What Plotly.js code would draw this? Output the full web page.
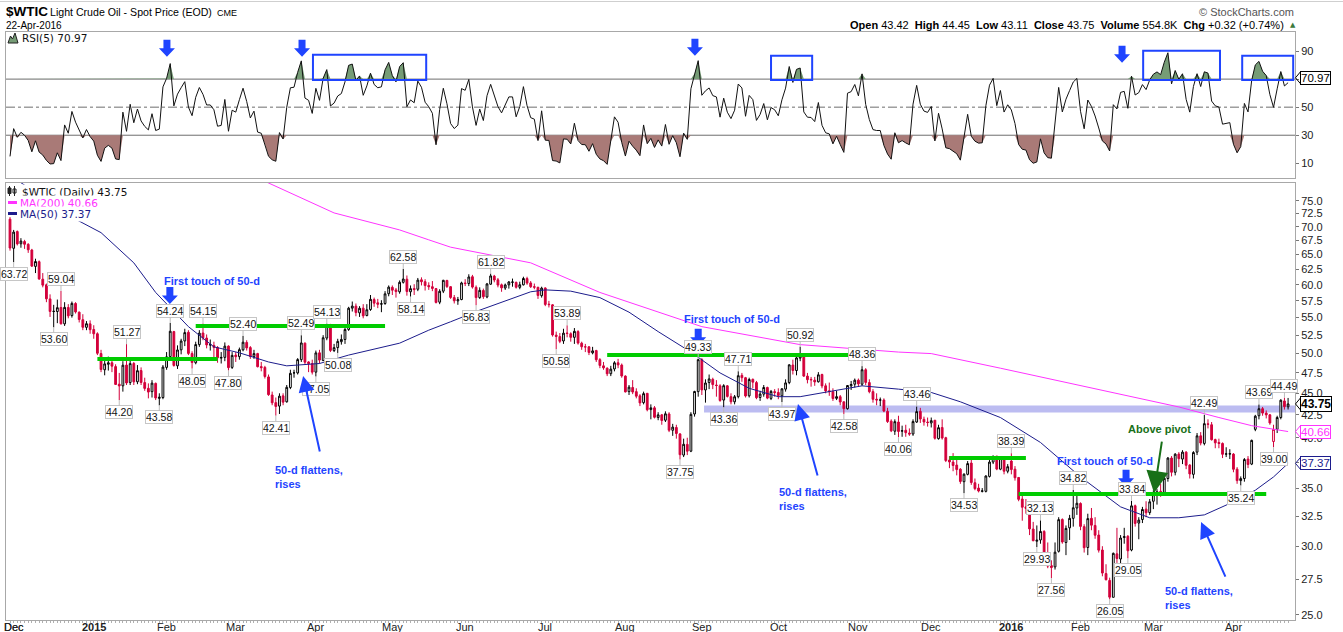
<!DOCTYPE html>
<html><head><meta charset="utf-8">
<script src="https://cdn.plot.ly/plotly-3.0.1.min.js"></script>
<style>html,body{margin:0;padding:0;background:#fff;overflow:hidden}#chart{width:1343px;height:632px}</style>
</head><body><div id="chart"></div>
<script>
// ---------------- DATA ----------------
const holidays=['2014-12-25','2015-01-01','2015-01-19','2015-02-16','2015-04-03','2015-05-25','2015-07-03','2015-09-07','2015-11-26','2015-12-25','2016-01-01','2016-01-18','2016-02-15','2016-03-25'];
const opens=[
71.40,66.10,69.10,66.90,67.30,66.80,65.80,63.00,63.80,60.90,
60.00,57.80,55.90,55.90,56.50,54.10,56.50,55.30,57.10,55.80,
54.70,53.60,54.10,53.30,52.70,50.00,47.90,48.60,48.80,48.30,
46.10,45.90,48.50,46.30,48.70,46.40,47.80,46.30,45.60,45.20,
46.20,44.40,44.50,48.20,49.60,53.00,48.40,50.50,51.70,52.90,
50.00,48.80,51.20,52.80,52.10,51.20,51.10,50.80,49.40,49.50,
51.00,48.20,49.80,49.60,50.50,51.50,50.80,49.60,50.00,48.30,
48.20,47.00,44.80,43.90,43.50,44.70,44.00,45.70,47.50,47.50,
49.20,51.40,48.90,48.70,47.60,50.10,49.10,52.10,54.00,50.40,
50.80,51.60,51.90,53.30,56.40,56.70,55.70,56.40,55.30,56.20,
57.70,57.20,57.00,57.10,58.60,59.60,59.20,58.90,60.40,60.90,
58.90,59.40,59.30,60.80,60.50,59.90,59.70,59.40,57.30,59.00,
60.70,59.70,58.00,57.50,57.70,60.30,60.20,61.30,59.60,58.00,
59.10,58.10,60.10,61.40,60.80,60.00,59.50,60.00,60.40,60.40,
59.60,60.00,61.00,60.30,59.70,59.60,58.30,59.50,57.00,56.90,
52.50,52.30,51.70,52.80,52.70,52.20,53.00,51.40,50.90,50.90,
50.10,50.40,49.20,48.40,48.10,47.40,48.00,48.80,48.50,47.10,
45.20,45.70,45.20,44.70,43.90,45.00,43.10,43.30,42.20,42.50,
41.90,42.60,40.80,41.10,40.40,38.20,39.30,38.60,42.60,45.20,
49.20,45.40,46.30,46.70,46.00,45.90,44.20,45.90,44.60,44.00,
44.60,47.20,46.90,44.70,46.70,46.30,44.50,44.90,45.70,44.40,
45.20,45.10,44.70,45.50,46.30,48.50,47.80,49.40,49.60,47.10,
46.70,46.60,46.40,47.30,45.90,45.30,45.20,44.40,44.60,44.00,
43.20,45.90,46.10,46.60,46.10,47.90,46.30,45.20,44.30,44.20,
44.20,42.90,41.80,40.70,41.70,40.70,40.80,40.50,40.40,41.70,
42.90,42.00,41.70,41.60,41.90,39.90,41.10,40.00,37.70,37.50,
37.20,36.80,35.60,36.30,37.40,35.50,35.00,34.70,34.70,36.10,
37.50,38.10,36.80,37.90,36.60,37.60,36.80,36.00,34.00,33.30,
33.20,31.40,30.40,30.50,31.20,29.40,28.50,28.40,29.60,32.20,
30.30,31.50,32.30,33.20,33.60,31.60,29.90,32.30,31.70,30.90,
29.70,27.90,27.40,26.20,29.40,29.00,30.70,30.80,29.70,33.40,
31.90,32.20,33.10,32.80,33.80,34.40,34.70,34.60,35.90,37.90,
36.50,38.30,37.80,38.50,37.20,36.30,38.50,40.20,39.40,41.50,
41.40,39.80,39.50,39.40,38.30,38.30,38.30,36.80,35.70,35.90,
37.80,37.30,40.90,42.40,43.20,42.70,42.50,39.60,40.90,42.20,
44.10,43.42];
const highs=[
71.80,69.40,69.30,67.90,67.60,67.00,66.00,64.30,64.00,61.90,
60.20,58.50,56.90,57.70,59.04,57.30,57.00,57.40,57.30,55.90,
55.50,54.50,54.60,53.90,52.90,50.50,49.30,49.60,49.50,48.60,
47.50,49.00,51.27,49.10,48.90,48.50,48.20,46.90,46.20,46.60,
46.30,45.00,48.50,50.20,54.24,53.10,51.10,52.00,53.40,53.20,
50.30,51.60,53.20,54.15,52.60,51.90,51.60,51.00,50.20,51.50,
51.10,50.20,50.20,50.80,52.40,51.80,51.00,50.50,50.10,48.90,
48.40,47.30,45.20,44.50,45.00,45.00,46.00,47.90,47.90,49.40,
52.49,51.50,49.00,49.20,50.40,50.50,52.50,54.13,54.10,51.30,
52.00,52.60,53.70,56.60,57.40,57.10,56.70,57.00,57.00,58.40,
58.00,57.80,57.60,59.00,59.90,59.90,59.50,60.70,62.58,61.50,
59.90,60.10,61.10,61.20,60.90,60.40,60.60,59.50,59.30,60.80,
60.80,59.80,58.40,58.10,60.50,60.90,61.70,61.60,59.90,59.60,
59.40,60.30,61.82,61.60,61.10,60.20,60.20,60.60,61.00,60.50,
60.50,61.30,61.30,60.60,60.20,59.70,59.70,59.60,57.50,57.00,
53.00,52.80,53.40,53.89,52.90,53.50,53.20,51.60,51.30,51.00,
50.90,50.50,49.40,48.90,48.20,48.40,49.00,49.30,48.70,47.20,
46.00,46.60,45.60,44.90,45.20,45.00,43.70,43.50,42.80,42.60,
42.90,42.80,41.50,41.40,40.50,39.90,40.00,42.80,45.30,49.33,
49.40,46.70,47.30,46.90,46.60,46.10,46.10,46.00,45.00,44.80,
47.71,47.50,47.00,46.90,46.80,46.50,45.30,46.00,45.80,45.40,
45.50,45.60,45.60,46.70,48.60,49.20,49.60,50.92,49.70,47.50,
47.00,47.00,47.60,47.40,46.20,46.30,45.60,45.30,44.80,44.00,
46.00,46.50,46.80,46.80,48.36,48.10,46.70,45.50,45.00,44.50,
44.40,43.30,42.00,42.00,42.40,41.30,41.40,41.00,42.00,43.46,
43.30,42.30,42.20,42.20,41.90,41.40,42.00,40.10,38.10,38.40,
37.80,36.90,36.40,37.60,37.90,35.90,35.40,35.00,36.20,37.70,
38.10,38.10,38.00,37.90,37.30,38.39,37.10,36.00,34.30,34.00,
33.30,32.00,31.70,32.13,31.30,30.30,28.90,30.30,32.40,32.30,
31.70,32.60,34.82,34.40,33.70,31.80,32.70,33.20,32.40,31.30,
30.00,28.60,27.60,29.50,31.50,30.90,31.50,30.90,33.84,33.50,
32.40,33.30,33.80,34.00,34.80,34.90,35.40,36.20,38.00,38.10,
38.40,38.50,38.70,38.60,37.30,38.60,40.50,40.60,42.49,42.00,
41.70,39.90,39.90,39.50,39.00,38.80,38.40,37.00,36.10,37.90,
38.10,39.80,42.50,43.69,43.40,43.00,42.60,41.40,42.40,44.30,
44.49,44.45];
const lows=[
65.69,63.72,66.60,66.20,66.00,65.30,62.90,61.90,60.80,59.60,
57.30,55.10,53.60,54.20,54.00,53.80,54.90,55.00,55.60,54.30,
53.20,53.20,52.70,52.00,49.80,47.60,47.20,47.80,47.60,46.00,
44.20,45.20,46.00,46.00,46.00,46.10,46.00,45.30,44.40,44.50,
44.20,43.58,44.30,47.90,49.30,48.30,48.00,49.90,51.00,49.80,
48.05,48.60,50.90,51.80,50.70,50.40,49.50,48.80,48.70,49.00,
47.80,48.00,48.90,49.20,50.30,50.40,49.30,49.30,48.20,47.70,
46.80,44.70,43.60,42.41,42.60,43.60,43.90,45.50,46.90,47.30,
48.90,48.60,47.60,47.30,47.05,48.70,49.00,51.80,50.20,50.20,
50.08,51.20,51.30,53.10,55.90,55.20,55.10,54.90,55.20,56.00,
56.60,56.40,55.80,56.90,58.20,58.40,58.00,58.60,60.20,58.30,
58.14,58.40,59.00,59.90,59.10,59.20,59.00,57.10,57.00,58.70,
59.50,57.80,57.10,56.90,57.60,59.80,59.80,59.40,56.83,57.80,
57.80,57.90,60.00,60.40,59.60,58.90,59.20,59.40,59.70,59.40,
59.30,59.90,60.00,59.50,59.30,57.80,58.00,56.70,56.50,52.30,
50.58,51.40,51.30,52.20,51.60,51.30,51.20,50.50,50.20,49.80,
49.90,48.90,48.10,47.90,47.10,47.10,47.70,48.10,46.90,45.10,
44.80,44.90,44.40,43.50,43.70,42.90,42.00,42.10,41.90,41.40,
41.70,40.60,40.20,39.90,37.75,38.00,38.20,38.50,42.30,44.60,
44.80,43.90,45.50,45.50,44.60,44.00,43.36,44.50,43.70,43.70,
44.40,46.40,44.50,44.50,45.60,44.30,44.10,44.60,44.30,44.20,
44.60,44.30,43.97,45.20,46.10,47.30,47.20,49.00,47.00,46.20,
45.80,45.90,46.30,45.60,45.00,44.70,44.10,44.20,43.60,42.58,
43.10,45.40,45.70,45.80,45.90,46.00,45.00,43.90,43.60,43.50,
42.80,41.60,40.60,40.30,40.06,40.10,40.10,40.20,40.20,41.60,
41.60,41.30,41.20,41.10,39.80,39.80,39.80,37.50,36.90,36.60,
36.20,35.40,34.53,36.20,35.30,34.80,34.60,34.60,34.60,36.00,
37.30,36.70,36.70,36.30,36.40,36.30,35.70,33.80,32.10,32.70,
30.90,30.40,29.93,30.20,29.10,28.30,27.56,28.20,29.50,30.20,
29.30,30.50,31.60,32.60,31.30,29.50,29.30,31.30,30.60,29.50,
27.70,27.40,26.05,26.20,28.70,28.50,30.20,29.05,29.60,31.60,
30.56,31.90,32.40,32.60,33.10,33.50,34.20,34.50,35.60,36.10,
36.20,37.00,37.30,36.80,35.90,35.90,38.20,39.20,39.20,41.00,
39.70,38.90,38.90,37.90,38.00,37.80,36.50,35.40,35.24,35.60,
36.90,37.20,40.70,42.00,42.40,42.10,41.40,39.00,40.50,42.00,
43.10,43.11];
const closes=[
66.15,69.00,66.88,67.38,66.81,65.84,63.05,63.82,60.94,59.95,
57.81,55.91,55.93,56.47,54.11,56.52,55.26,57.12,55.84,54.73,
53.61,54.12,53.27,52.69,50.04,47.93,48.65,48.79,48.36,46.07,
45.89,48.48,46.25,48.69,46.39,47.78,46.31,45.59,45.15,46.23,
44.45,44.53,48.24,49.57,53.05,48.45,50.48,51.69,52.86,50.02,
48.84,51.21,52.78,52.14,51.16,51.16,50.81,49.45,49.49,50.99,
48.17,49.76,49.59,50.52,51.53,50.76,49.61,50.00,48.29,48.17,
47.05,44.84,43.88,43.46,44.66,43.96,45.72,47.45,47.51,49.21,
51.43,48.87,48.68,47.60,50.09,49.14,52.14,53.98,50.42,50.79,
51.64,51.91,53.29,56.39,56.71,55.74,56.38,55.26,56.16,57.74,
57.15,56.99,57.06,58.58,59.63,59.15,58.93,60.40,60.93,58.94,
59.39,59.25,60.75,60.50,59.88,59.69,59.43,57.26,58.98,60.72,
59.72,58.03,57.51,57.68,60.30,60.20,61.26,59.64,58.00,59.13,
58.14,60.14,61.43,60.77,59.96,59.52,59.97,60.45,60.45,59.61,
60.01,61.01,60.27,59.70,59.63,58.33,59.47,56.96,56.93,52.53,
52.33,51.65,52.78,52.74,52.20,53.04,51.41,50.91,50.89,50.15,
50.36,49.19,48.45,48.14,47.39,47.98,48.79,48.52,47.12,45.17,
45.74,45.15,44.66,43.87,44.96,43.08,43.30,42.23,42.50,41.87,
42.62,40.80,41.14,40.45,38.24,39.31,38.60,42.56,45.22,49.20,
45.41,46.25,46.75,46.05,45.94,44.15,45.92,44.63,44.00,44.59,
47.15,46.90,44.68,46.68,46.35,44.48,44.91,45.70,44.43,45.23,
45.09,44.74,45.54,46.26,48.53,47.81,49.43,49.63,47.10,46.66,
46.64,46.38,47.26,45.89,45.29,45.20,44.38,44.60,43.98,43.20,
45.94,46.06,46.59,46.14,47.90,46.32,45.20,44.29,44.21,44.21,
42.93,41.75,40.74,41.74,40.67,40.75,40.54,40.39,41.75,42.87,
42.04,41.71,41.65,41.85,39.94,41.08,39.97,37.65,37.51,37.16,
36.76,35.62,36.31,37.35,35.52,34.95,34.73,34.74,36.14,37.50,
38.10,36.81,37.87,36.60,37.04,36.76,35.97,33.97,33.27,33.16,
31.41,30.44,30.48,31.20,29.42,28.46,28.35,29.53,32.19,30.34,
31.45,32.30,33.22,33.62,31.62,29.88,32.28,31.72,30.89,29.69,
27.94,27.45,26.21,29.44,29.04,30.66,30.77,29.64,33.39,31.87,
32.15,33.07,32.78,33.75,34.40,34.66,34.57,35.92,37.90,36.50,
38.29,37.84,38.50,37.18,36.34,38.46,40.20,39.44,41.52,41.45,
39.79,39.46,39.39,38.28,38.32,38.34,36.79,35.70,35.89,37.75,
37.26,39.72,42.35,43.20,42.70,42.50,41.60,40.90,42.20,44.18,
43.43,43.75];

// moving averages (bar index, value)
const ma50Idx=[0,18,25,34,40,49,56,63,71,76,85,93,107,115,121,129,143,147,154,162,170,178,187,195,203,211,217,225,234,244,253,261,272,283,294,305,313,321,328,335,342,347,351];
const ma50Val=[80.2,71.4,68.9,63.6,58.8,53.7,50.9,50.1,48.9,48.4,48.7,49.8,51.4,53.2,54.4,56.1,58.9,59.2,59.0,58.0,55.8,53.0,50.2,47.5,45.6,44.6,44.6,45.2,45.9,45.5,45.1,44.0,42.2,39.5,36.05,33.3,32.35,32.35,32.6,33.6,34.8,36.05,37.37];
const ma200Idx=[60,71,89,107,115,121,143,162,190,217,244,253,272,299,321,332,341,351];
const ma200Val=[82.3,78.6,72.6,69.4,67.6,66.3,63.6,58.8,53.7,51.2,50.2,50.0,48.1,45.5,43.4,42.2,41.3,40.66];

// labelled highs / lows (bar index, H or L)
const hlLabels=[[1,'L'],[14,'H'],[12,'L'],[32,'H'],[30,'L'],[44,'H'],[41,'L'],[53,'H'],[50,'L'],[64,'H'],[60,'L'],[80,'H'],[73,'L'],[84,'L'],[87,'H'],[90,'L'],[108,'H'],[110,'L'],[132,'H'],[128,'L'],[153,'H'],[150,'L'],[184,'L'],[189,'H'],[196,'L'],[200,'H'],[212,'L'],[217,'H'],[229,'L'],[234,'H'],[244,'L'],[249,'H'],[262,'L'],[275,'H'],[282,'L'],[283,'H'],[286,'L'],[292,'H'],[302,'L'],[307,'L'],[308,'H'],[328,'H'],[338,'L'],[343,'H'],[347,'L'],[350,'H']];

// drawn support/resistance lines (start bar, end bar, level)
const greenStart=[24,51,164,258,277];
const greenEnd=[57,103,235,279,345];
const greenLevel=[49.3,53.8,49.8,37.9,34.45];
const bandStart=190.6, bandLevel=43.17;

const priceTicks=[25,27.5,30,32.5,35,37.5,40,42.5,45,47.5,50,52.5,55,57.5,60,62.5,65,67.5,70,72.5,75];
const hiddenPriceTicks=[37.5];
const rsiTicks=[10,30,50,70,90];
const rsiTickText=['10','30','50','','90'];
const monthNames=['Jan','Feb','Mar','Apr','May','Jun','Jul','Aug','Sep','Oct','Nov','Dec'];
const rsiSeedGain=0.35, rsiSeedLoss=2.0;

// ---------------- BUILD ----------------
const dates=[];
for(let d=new Date(Date.UTC(2014,10,28)); d<=new Date(Date.UTC(2016,3,22)); d.setUTCDate(d.getUTCDate()+1)){
  const wd=d.getUTCDay(); if(wd===0||wd===6) continue;
  const s=d.toISOString().slice(0,10); if(holidays.includes(s)) continue; dates.push(s);
}
const N=dates.length;
const monthStarts=[];
for(let i=1;i<N;i++){ if(dates[i].slice(5,7)!==dates[i-1].slice(5,7)){const m=+dates[i].slice(5,7); monthStarts.push([i, m===1?'<b>'+dates[i].slice(0,4)+'</b>':monthNames[m-1]]);} }

const FONT='Liberation Sans, Arial, sans-serif';
const FONT2='DejaVu Sans, Verdana, sans-serif';
const BLUE='#1f44ff', RED='#d3003b', MAG='#ff33ff', NAVY='#1c1c8c', GRN='#00cc00';

const isUp=i=> i===0 ? closes[0]>=opens[0] : closes[i]>=closes[i-1];
const upIdx=[],dnIdx=[];
for(let i=0;i<N;i++){(isUp(i)?upIdx:dnIdx).push(i);}
function candle(idx,color){
  return {type:'candlestick',xaxis:'x',yaxis:'y',x:idx.map(i=>dates[i]),open:idx.map(i=>opens[i]),high:idx.map(i=>highs[i]),low:idx.map(i=>lows[i]),close:idx.map(i=>closes[i]),
    increasing:{line:{color:color,width:1},fillcolor:'#ffffff'},decreasing:{line:{color:color,width:1},fillcolor:color},whiskerwidth:0,hoverinfo:'skip',showlegend:false};
}
// RSI(5) Wilder
let ag=rsiSeedGain, al=rsiSeedLoss; const rsi=[100-100/(1+ag/al)];
for(let i=1;i<N;i++){const ch=closes[i]-closes[i-1]; ag=(ag*4+Math.max(ch,0))/5; al=(al*4+Math.max(-ch,0))/5; rsi.push(al===0?100:100-100/(1+ag/al));}

const traces=[];
traces.push({type:'scatter',mode:'lines',xaxis:'x',yaxis:'y',x:ma200Idx.map(i=>dates[i]),y:ma200Val,line:{color:MAG,width:1},hoverinfo:'skip'});
traces.push({type:'scatter',mode:'lines',xaxis:'x',yaxis:'y',x:ma50Idx.map(i=>dates[i]),y:ma50Val,line:{color:NAVY,width:1},hoverinfo:'skip'});
traces.push(candle(upIdx,'#000000'));
traces.push(candle(dnIdx,RED));
for(let k=0;k<greenStart.length;k++){
  traces.push({type:'scatter',mode:'lines',xaxis:'x',yaxis:'y',x:[dates[greenStart[k]],dates[greenEnd[k]]],y:[greenLevel[k],greenLevel[k]],line:{color:GRN,width:4},hoverinfo:'skip'});
}
// RSI panel
traces.push({type:'scatter',mode:'lines',xaxis:'x2',yaxis:'y2',x:dates,y:dates.map(()=>70),line:{width:0,color:'rgba(0,0,0,0)'},hoverinfo:'skip'});
traces.push({type:'scatter',mode:'lines',xaxis:'x2',yaxis:'y2',x:dates,y:rsi.map(v=>Math.max(v,70)),fill:'tonexty',fillcolor:'#769c76',line:{width:0,color:'rgba(0,0,0,0)'},hoverinfo:'skip'});
traces.push({type:'scatter',mode:'lines',xaxis:'x2',yaxis:'y2',x:dates,y:dates.map(()=>30),line:{width:0,color:'rgba(0,0,0,0)'},hoverinfo:'skip'});
traces.push({type:'scatter',mode:'lines',xaxis:'x2',yaxis:'y2',x:dates,y:rsi.map(v=>Math.min(v,30)),fill:'tonexty',fillcolor:'#a97a77',line:{width:0,color:'rgba(0,0,0,0)'},hoverinfo:'skip'});
traces.push({type:'scatter',mode:'lines',xaxis:'x2',yaxis:'y2',x:dates,y:rsi,line:{color:'#111',width:1},hoverinfo:'skip'});

// pixel helpers for page-level text placement
const PX=X=>(X-6)/1289, PY=Y=>(620-Y)/588;
const L10=Math.log10;
const shapes=[];
const ann=[];
// top rule
shapes.push({type:'line',xref:'paper',yref:'paper',x0:PX(0),x1:PX(1343),y0:PY(1.5),y1:PY(1.5),line:{color:'#cfcfcf',width:1}});
// RSI reference lines
[70,30].forEach(v=>shapes.push({type:'line',xref:'paper',yref:'y2',x0:0,x1:1,y0:v,y1:v,line:{color:'#6e6e6e',width:1},layer:'below'}));
shapes.push({type:'line',xref:'paper',yref:'y2',x0:0,x1:1,y0:50,y1:50,line:{color:'#6e6e6e',width:1,dash:'dashdot'},layer:'below'});
// lavender pivot band
shapes.push({type:'line',xref:'x',yref:'y',x0:bandStart,x1:N+2,y0:bandLevel,y1:bandLevel,line:{color:'rgba(160,160,235,0.7)',width:7},layer:'below'});
// RSI boxes
[[83.2,114.3,87.4],[209,220.3,86.6],[311.2,332.3,90.2],[338.4,352.4,86.6]].forEach(b=>shapes.push({type:'rect',xref:'x2',yref:'y2',x0:b[0],x1:b[1],y0:69.4,y1:b[2],line:{color:BLUE,width:2}}));
// block arrows
const arrowPath='M-3.5,17 L3.5,17 L3.5,8.5 L8,8.5 L0,0 L-8,8.5 L-3.5,8.5 Z';
[[43.1,85.9],[80.2,85.9],[188.1,86.6],[305.4,81.6]].forEach(a=>shapes.push({type:'path',xref:'x2',yref:'y2',xsizemode:'pixel',ysizemode:'pixel',xanchor:a[0],yanchor:a[1],path:arrowPath,fillcolor:BLUE,line:{width:0}}));
[[43.9,57.04],[189,51.06],[306.5,35.13]].forEach(a=>shapes.push({type:'path',xref:'x',yref:'y',xsizemode:'pixel',ysizemode:'pixel',xanchor:a[0],yanchor:a[1],path:arrowPath,fillcolor:BLUE,line:{width:0}}));
// MA legend dashes
shapes.push({type:'line',xref:'paper',yref:'paper',x0:PX(8),x1:PX(17),y0:PY(202.5),y1:PY(202.5),line:{color:MAG,width:3}});
shapes.push({type:'line',xref:'paper',yref:'paper',x0:PX(8),x1:PX(17),y0:PY(213.5),y1:PY(213.5),line:{color:NAVY,width:3}});
// small legend icons (RSI mountain, candle)
shapes.push({type:'path',xref:'paper',yref:'paper',xsizemode:'pixel',ysizemode:'pixel',xanchor:PX(8),yanchor:PY(43),path:'M0,0 L2.5,7 L4.5,4 L7,10 L10,0 Z',fillcolor:'#769c76',line:{color:'#222',width:1}});
shapes.push({type:'path',xref:'paper',yref:'paper',xsizemode:'pixel',ysizemode:'pixel',xanchor:PX(8),yanchor:PY(196),path:'M1.5,0 L1.5,10 M0,2.5 L3,2.5 L3,8 L0,8 Z',fillcolor:'#222',line:{color:'#222',width:1}});
shapes.push({type:'path',xref:'paper',yref:'paper',xsizemode:'pixel',ysizemode:'pixel',xanchor:PX(13),yanchor:PY(196),path:'M1.5,0 L1.5,10 M0,3 L3,3 L3,7 L0,7 Z',fillcolor:'#fff',line:{color:'#222',width:1}});

// header
function T(X,Y,text,size,opt){return Object.assign({xref:'paper',yref:'paper',x:PX(X),y:PY(Y),text:text,showarrow:false,xanchor:'left',yanchor:'middle',font:{family:FONT,size:size,color:'#000'}},opt||{});}
ann.push(T(4,12,'<b>$WTIC</b>',13.5));
ann.push(T(48,12.5,'Light Crude Oil - Spot Price (EOD)',10.6));
ann.push(T(215,13,'CME',9));
ann.push(T(4,25,'22-Apr-2016',10));
ann.push(T(1296,12,'© StockCharts.com',11,{xanchor:'right',font:{family:FONT,size:11,color:'#555'}}));
ann.push(T(1286,25,'<b>Open</b> 43.42  <b>High</b> 44.45  <b>Low</b> 43.11  <b>Close</b> 43.75  <b>Volume</b> 554.8K  <b>Chg</b> +0.32 (+0.74%)',11,{xanchor:'right'}));
ann.push(T(1288,25,'▲',7,{font:{family:FONT2,size:7,color:'#3d7a3d'}}));
// x-axis month labels
monthStarts.forEach(([i,t])=>ann.push({xref:'x',yref:'paper',x:dates[i],y:PY(627),text:t,showarrow:false,xanchor:'center',yanchor:'middle',font:{family:FONT,size:11,color:'#222'}}));
ann.push({xref:'x',yref:'paper',x:dates[1],y:PY(627),text:'Dec',showarrow:false,xanchor:'center',yanchor:'middle',font:{family:FONT,size:11,color:'#222'}});
// panel legends
ann.push(T(20,38,'RSI(5) 70.97',10.5,{font:{family:FONT2,size:10.5,color:'#111'}}));
ann.push(T(20,191.5,'$WTIC (Daily) 43.75',10.5,{font:{family:FONT2,size:10.5,color:'#111'},bgcolor:'#fff'}));
ann.push(T(18,202.5,'MA(200) 40.66',10.5,{font:{family:FONT2,size:10.5,color:MAG},bgcolor:'#fff'}));
ann.push(T(18,213.5,'MA(50) 37.37',10.5,{font:{family:FONT2,size:10.5,color:NAVY},bgcolor:'#fff'}));
// right value boxes
function vbox(yref,y,text,color,bold){return {xref:'paper',yref:yref,x:1,y:y,xanchor:'left',yanchor:'middle',xshift:5,text:bold?'<b>'+text+'</b>':text,showarrow:false,font:{family:FONT,size:bold?12:11.5,color:color},bgcolor:'#fff',bordercolor:color,borderwidth:1,borderpad:0};}
ann.push(vbox('y2',70.97,'70.97','#000',false));
ann.push(vbox('y',L10(closes[N-1]),closes[N-1].toFixed(2),'#000',true));
ann.push(vbox('y',L10(ma200Val[ma200Val.length-1]),'40.66',MAG,false));
ann.push(vbox('y',L10(ma50Val[ma50Val.length-1]),'37.37',NAVY,false));
[['y2',70.97,'#000'],['y',closes[N-1],'#000'],['y',40.66,MAG],['y',37.37,NAVY]].forEach(c=>shapes.push({type:'path',xref:'paper',yref:c[0],xsizemode:'pixel',ysizemode:'pixel',xanchor:1,yanchor:c[1],path:'M5.5,6 L0.5,0 L5.5,-6',line:{color:c[2],width:1}}));
// high / low value labels
hlLabels.forEach(([i,t])=>{const v=t==='H'?highs[i]:lows[i];
  ann.push({xref:'x',yref:'y',x:dates[i],y:L10(v),text:v.toFixed(2),showarrow:true,arrowhead:0,arrowwidth:1,arrowcolor:'#bdbdbd',ax:0,ay:t==='H'?-12:12,standoff:0,
    font:{family:FONT,size:10.5,color:'#111'},bgcolor:'#fff',bordercolor:'#c6c6c6',borderwidth:1,borderpad:0});});
// commentary
const bf=(c,s)=>({family:FONT,size:s||11,color:c});
[[55.5,60.64],[198.3,54.83],[300.7,37.6]].forEach(p=>ann.push({xref:'x',yref:'y',x:p[0],y:L10(p[1]),text:'<b>First touch of 50-d</b>',showarrow:false,xanchor:'center',yanchor:'middle',font:bf(BLUE)}));
[[72.2,36.01],[210.7,33.96],[316.7,26.15]].forEach(p=>ann.push({xref:'x',yref:'y',x:p[0],y:L10(p[1]),text:'<b>50-d flattens,<br>rises</b>',align:'left',showarrow:false,xanchor:'left',yanchor:'middle',font:bf(BLUE)}));
[[80.5,47.12,17,77],[216.4,43.75,20,73],[327.1,31.98,25,56]].forEach(a=>ann.push({xref:'x',yref:'y',x:a[0],y:L10(a[1]),ax:a[2],ay:a[3],text:'',showarrow:true,arrowhead:2,arrowsize:1.6,arrowwidth:2,arrowcolor:BLUE,standoff:0}));
ann.push({xref:'x',yref:'y',x:315.8,y:L10(40.93),text:'<b>Above pivot</b>',showarrow:false,xanchor:'center',yanchor:'middle',font:bf('#187018')});
ann.push({xref:'x',yref:'y',x:314.2,y:L10(34.54),ax:8,ay:-53,text:'',showarrow:true,arrowhead:2,arrowsize:2.2,arrowwidth:2,arrowcolor:'#187018',standoff:0});

if(opens.length!==N||highs.length!==N||lows.length!==N||closes.length!==N){
  ann.push(T(400,300,'LEN '+[N,opens.length,highs.length,lows.length,closes.length].join(','),30,{font:{size:30,color:'red'}}));
}

const axLine={showline:true,mirror:true,linecolor:'#a8a8a8',linewidth:1,zeroline:false,showgrid:false};
const layout={
  width:1343,height:632,margin:{l:6,r:48,t:32,b:12},paper_bgcolor:'#fff',plot_bgcolor:'#fff',showlegend:false,hovermode:false,
  font:{family:FONT,size:11,color:'#222'},
  xaxis:Object.assign({domain:[0,1],anchor:'y',type:'category',categoryorder:'array',categoryarray:dates,range:[-1.1,352.9],
    tickmode:'array',tickvals:dates,ticks:'outside',ticklen:2,tickcolor:'#b0b0b0',showticklabels:false,rangeslider:{visible:false}},axLine),
  yaxis:Object.assign({domain:[0,0.7432],anchor:'x',type:'log',range:[1.39216,1.8954],side:'right',tickmode:'array',tickvals:priceTicks,ticktext:priceTicks.map(v=>hiddenPriceTicks.includes(v)?'':v.toFixed(1)),
    ticks:'outside',ticklen:3,tickcolor:'#777',tickfont:{family:FONT,size:11,color:'#222'}},axLine),
  xaxis2:Object.assign({domain:[0,1],anchor:'y2',type:'category',categoryorder:'array',categoryarray:dates,range:[-1.1,352.9],matches:'x',showticklabels:false,ticks:''},axLine),
  yaxis2:Object.assign({domain:[0.7517,1],anchor:'x2',range:[-0.5,103.6],side:'right',tickmode:'array',tickvals:rsiTicks,ticktext:rsiTickText,ticks:'outside',ticklen:3,tickcolor:'#777',tickfont:{family:FONT,size:11,color:'#222'}},axLine),
  shapes:shapes,annotations:ann
};
Plotly.newPlot('chart',traces,layout,{staticPlot:true,displayModeBar:false});
</script></body></html>
